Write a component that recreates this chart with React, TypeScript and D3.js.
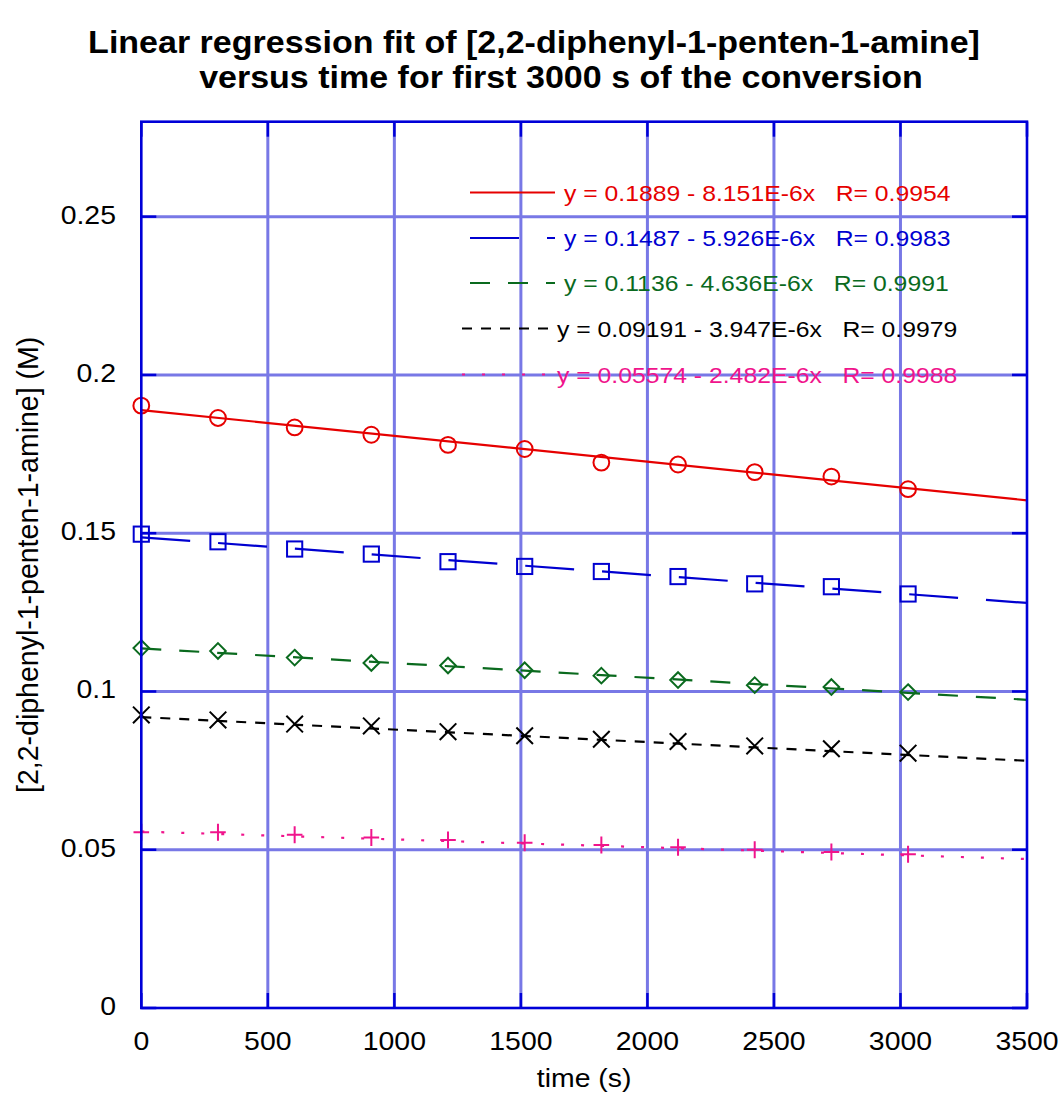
import React from 'react';
import * as d3 from 'd3';

// ---------- data ----------
const times = [0, 303, 606, 909, 1212, 1515, 1818, 2121, 2424, 2727, 3030];
const redValues = [0.1903, 0.1864, 0.1834, 0.1811, 0.1779, 0.1766, 0.1723, 0.1717, 0.1693, 0.1679, 0.1639];
const blueValues = [0.1497, 0.1473, 0.145, 0.1434, 0.141, 0.1395, 0.1379, 0.1363, 0.134, 0.1331, 0.1308];
const greenValues = [0.1137, 0.1128, 0.1107, 0.109, 0.1082, 0.1067, 0.105, 0.1036, 0.102, 0.1014, 0.0998];
const blackValues = [0.0926, 0.091, 0.0897, 0.0891, 0.0873, 0.086, 0.0849, 0.0842, 0.0828, 0.0819, 0.0805];
const pinkValues = [0.0555, 0.0555, 0.0547, 0.0539, 0.0531, 0.0522, 0.0515, 0.0508, 0.05, 0.0493, 0.0486];

const intercepts = [0.1889, 0.1487, 0.1136, 0.09191, 0.05574];
const slopes = [-8.151e-6, -5.926e-6, -4.636e-6, -3.947e-6, -2.482e-6];
const legendLabels = [
  'y = 0.1889 - 8.151E-6x   R= 0.9954',
  'y = 0.1487 - 5.926E-6x   R= 0.9983',
  'y = 0.1136 - 4.636E-6x   R= 0.9991',
  'y = 0.09191 - 3.947E-6x   R= 0.9979',
  'y = 0.05574 - 2.482E-6x   R= 0.9988',
];

const xTicks = [0, 500, 1000, 1500, 2000, 2500, 3000, 3500];
const xTickLabels = ['0', '500', '1000', '1500', '2000', '2500', '3000', '3500'];
const yTicks = [0, 0.05, 0.1, 0.15, 0.2, 0.25];
const yTickLabels = ['0', '0.05', '0.1', '0.15', '0.2', '0.25'];

const titleLines = [
  'Linear regression fit of [2,2-diphenyl-1-penten-1-amine]',
  'versus time for first 3000 s of the conversion',
];
const xLabel = 'time (s)';
const yLabel = '[2,2-diphenyl-1-penten-1-amine] (M)';

// ---------- styles ----------
const seriesValues = [redValues, blueValues, greenValues, blackValues, pinkValues];
const seriesColors = ['#e60000', '#0000d0', '#0a6a1e', '#000000', '#f0148c'];
const seriesDash = ['none', '49,28', '20,18', '10,9', '3,17'];
const seriesMarkers = ['circle', 'square', 'diamond', 'x', 'plus'];

const W = 1061;
const H = 1095;
const PL = 141.3, PR = 1027, PT = 121.7, PB = 1008;
const SX = 1.115;
const FONT = 'Liberation Sans, Arial, Helvetica, sans-serif';
const GRID = '#7878e6';
const FRAME = '#0000d8';

function Txt(props: any) {
  const { x, y, anchor = 'start', size = 25.5, weight = 'normal', fill = '#000', rotate = false, sx = SX, children } = props;
  return (
    <text
      transform={`translate(${x},${y}) scale(${sx},1)${rotate ? ' rotate(-90)' : ''}`}
      textAnchor={anchor}
      fontSize={size}
      fontWeight={weight}
      fontFamily={FONT}
      fill={fill}
      style={{ whiteSpace: 'pre' }}
    >
      {children}
    </text>
  );
}

function Marker({ type, cx, cy, color }: any) {
  const sw = 2;
  if (type === 'circle') return <circle cx={cx} cy={cy} r={7.9} fill="none" stroke={color} strokeWidth={sw} />;
  if (type === 'square') return <rect x={cx - 7.6} y={cy - 7.6} width={15.2} height={15.2} fill="none" stroke={color} strokeWidth={sw} />;
  if (type === 'diamond')
    return (
      <path
        d={`M${cx},${cy - 7.8}L${cx + 7.8},${cy}L${cx},${cy + 7.8}L${cx - 7.8},${cy}Z`}
        fill="none"
        stroke={color}
        strokeWidth={sw}
      />
    );
  if (type === 'x')
    return (
      <path
        d={`M${cx - 8.3},${cy - 8.3}L${cx + 8.3},${cy + 8.3}M${cx - 8.3},${cy + 8.3}L${cx + 8.3},${cy - 8.3}`}
        stroke={color}
        strokeWidth={sw}
      />
    );
  return (
    <path
      d={`M${cx - 7.8},${cy}L${cx + 7.8},${cy}M${cx},${cy - 8.5}L${cx},${cy + 8.5}`}
      stroke={color}
      strokeWidth={sw}
    />
  );
}

export default function App() {
  const x = d3.scaleLinear().domain([0, 3500]).range([PL, PR]);
  const y = d3.scaleLinear().domain([0, 0.28]).range([PB, PT]);

  const legendRows = [192.5, 238, 283, 328.5, 374.5];
  const legendX0 = [470, 470, 470, 462, 462];
  const legendX1 = [555, 555, 555, 552, 552];
  const legendTX = [564, 564, 564, 557, 557];

  return (
    <svg width={W} height={H} style={{ position: 'absolute', left: 0, top: 0, background: '#fff' }}>
      <rect x={0} y={0} width={W} height={H} fill="#fff" />
      {/* grid */}
      {xTicks.slice(1, -1).map((t) => (
        <line key={'gx' + t} x1={x(t)} x2={x(t)} y1={PT} y2={PB} stroke={GRID} strokeWidth={3} />
      ))}
      {yTicks.slice(1).map((t) => (
        <line key={'gy' + t} x1={PL} x2={PR} y1={y(t)} y2={y(t)} stroke={GRID} strokeWidth={3} />
      ))}
      {/* fit lines */}
      {intercepts.map((a, i) => {
        const pts: [number, number][] = x.domain().map((t) => [x(t), y(a + slopes[i] * t)]);
        const d = d3.line()(pts) || '';
        return (
          <path key={'fit' + i} d={d} fill="none" stroke={seriesColors[i]} strokeWidth={2.2}
            strokeDasharray={seriesDash[i]} />
        );
      })}
      {/* markers */}
      {seriesValues.map((vals, i) =>
        vals.map((v, j) => (
          <Marker key={`m${i}-${j}`} type={seriesMarkers[i]} cx={x(times[j])} cy={y(v)} color={seriesColors[i]} />
        ))
      )}
      {/* legend */}
      {legendLabels.map((lab, i) => (
        <g key={'lg' + i}>
          <line x1={legendX0[i]} x2={legendX1[i]} y1={legendRows[i]} y2={legendRows[i]} stroke={seriesColors[i]}
            strokeWidth={2.2} strokeDasharray={seriesDash[i]} />
          <Txt x={legendTX[i]} y={legendRows[i] + 8} size={22.2} fill={seriesColors[i]}>{lab}</Txt>
        </g>
      ))}
      {/* frame */}
      <rect x={PL} y={PT} width={PR - PL} height={PB - PT} fill="none" stroke={FRAME} strokeWidth={2.6} />
      {/* ticks */}
      {xTicks.map((t) => (
        <g key={'tx' + t}>
          <line x1={x(t)} x2={x(t)} y1={PB} y2={PB - 15} stroke={FRAME} strokeWidth={2.5} />
          <line x1={x(t)} x2={x(t)} y1={PT} y2={PT + 15} stroke={FRAME} strokeWidth={2.5} />
        </g>
      ))}
      {yTicks.map((t) => (
        <g key={'ty' + t}>
          <line x1={PL} x2={PL + 15} y1={y(t)} y2={y(t)} stroke={FRAME} strokeWidth={2.5} />
          <line x1={PR} x2={PR - 15} y1={y(t)} y2={y(t)} stroke={FRAME} strokeWidth={2.5} />
        </g>
      ))}
      {/* tick labels */}
      {xTicks.map((t, i) => (
        <Txt key={'xl' + t} x={x(t)} y={1050} anchor="middle">{xTickLabels[i]}</Txt>
      ))}
      {yTicks.map((t, i) => (
        <Txt key={'yl' + t} x={116} y={y(t) + 7} anchor="end">{yTickLabels[i]}</Txt>
      ))}
      {/* axis labels */}
      <Txt x={(PL + PR) / 2} y={1087} anchor="middle">{xLabel}</Txt>
      <Txt x={38} y={(PT + PB) / 2} anchor="middle" rotate size={28.5} sx={1.05}>{yLabel}</Txt>
      {/* title */}
      <Txt x={534} y={53} anchor="middle" size={30.5} weight="bold">{titleLines[0]}</Txt>
      <Txt x={561} y={88} anchor="middle" size={30.5} weight="bold">{titleLines[1]}</Txt>
    </svg>
  );
}
